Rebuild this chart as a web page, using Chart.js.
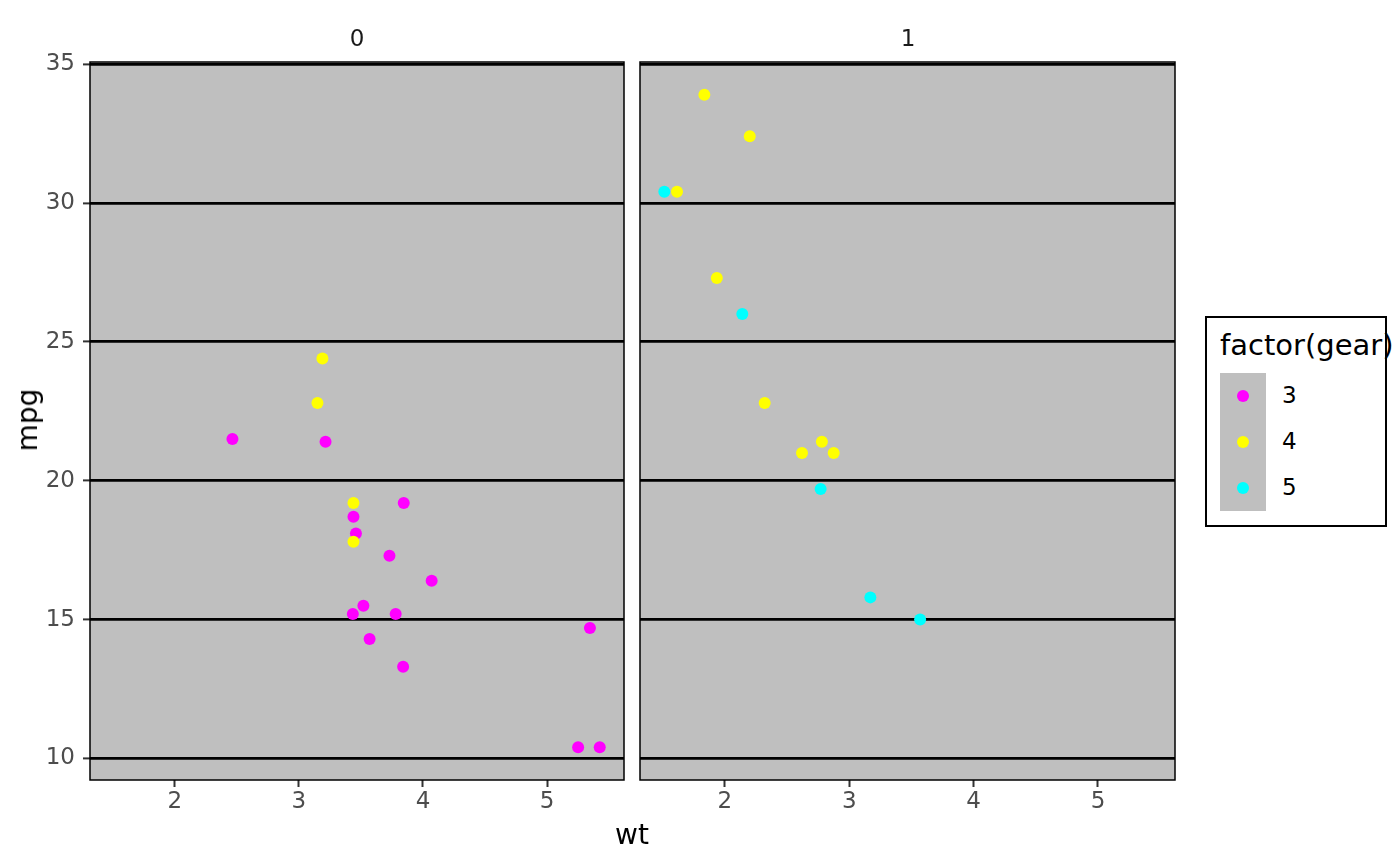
<!DOCTYPE html>
<html>
<head>
<meta charset="utf-8">
<script src="https://cdn.jsdelivr.net/npm/chart.js@4.4.1/dist/chart.umd.min.js"></script>
<style>
  body { margin: 0; background: #fff; font-family: "DejaVu Sans", sans-serif; }
  #wrap { position: relative; width: 1400px; height: 866px; }
  .box { position: absolute; }
  .strip { position: absolute; top: 38px; font-size: 23px; line-height: 1; color: #1a1a1a; transform: translate(-50%, -50%); }
  .axtitle { position: absolute; font-size: 28px; line-height: 1; color: #000; }
  #legend { position: absolute; left: 1205px; top: 316px; width: 178px; height: 207px; border: 2px solid #000; }
  #legend .title { position: absolute; left: 13px; top: 13px; font-size: 29px; line-height: 1; white-space: nowrap; }
  #legend .keys { position: absolute; left: 13px; top: 55px; width: 46px; height: 138px; background: #bfbfbf; }
  #legend .dot { position: absolute; left: 17px; width: 12px; height: 12px; border-radius: 50%; }
  #legend .lab { position: absolute; left: 75px; font-size: 23px; line-height: 1; }
</style>
</head>
<body>
<div id="wrap">
  <div class="box" style="left:0;top:0;"><canvas id="c0" width="630" height="866"></canvas></div>
  <div class="box" style="left:630px;top:0;"><canvas id="c1" width="560" height="866"></canvas></div>
  <div class="strip" style="left:357px;">0</div>
  <div class="strip" style="left:908px;">1</div>
  <div class="axtitle" style="left:632px;top:835px;transform:translate(-50%,-50%);">wt</div>
  <div class="axtitle" style="left:28px;top:420px;transform:translate(-50%,-50%) rotate(-90deg);">mpg</div>
  <div id="legend">
    <div class="title">factor(gear)</div>
    <div class="keys" id="keys"></div>
  </div>
</div>
<script>
// mtcars columns used by the plot
const wt = [2.62, 2.875, 2.32, 3.215, 3.44, 3.46, 3.57, 3.19, 3.15, 3.44, 3.44, 4.07, 3.73, 3.78, 5.25, 5.424,
  5.345, 2.2, 1.615, 1.835, 2.465, 3.52, 3.435, 3.84, 3.845, 1.935, 2.14, 1.513, 3.17, 2.77, 3.57, 2.78];
const mpg = [21.0, 21.0, 22.8, 21.4, 18.7, 18.1, 14.3, 24.4, 22.8, 19.2, 17.8, 16.4, 17.3, 15.2, 10.4, 10.4,
  14.7, 32.4, 30.4, 33.9, 21.5, 15.5, 15.2, 13.3, 19.2, 27.3, 26.0, 30.4, 15.8, 19.7, 15.0, 21.4];
const am = [1, 1, 1, 0, 0, 0, 0, 0, 0, 0, 0, 0, 0, 0, 0, 0, 0, 1, 1, 1, 0, 0, 0, 0, 0, 1, 1, 1, 1, 1, 1, 1];
const gear = [4, 4, 4, 3, 3, 3, 3, 4, 4, 4, 4, 3, 3, 3, 3, 3, 3, 4, 4, 4, 3, 3, 3, 3, 3, 4, 5, 5, 5, 5, 5, 4];

const panels = [0, 1];
const gearLevels = [3, 4, 5];
const gearColors = { 3: "#ff00ff", 4: "#ffff00", 5: "#00ffff" };
const xTicks = [2, 3, 4, 5];
const yTicks = [10, 15, 20, 25, 30, 35];

// ggplot-style 5% expansion of the data range
const xMin = Math.min(...wt), xMax = Math.max(...wt);
const yMin = Math.min(...mpg), yMax = Math.max(...mpg);
const xPad = (xMax - xMin) * 0.05, yPad = (yMax - yMin) * 0.05;

// grey panel + thin black frame
const panelPlugin = {
  id: "panel",
  beforeDraw(chart) {
    const a = chart.chartArea, ctx = chart.ctx;
    ctx.save();
    ctx.fillStyle = "#bfbfbf";
    ctx.fillRect(a.left, a.top, a.right - a.left, a.bottom - a.top);
    ctx.restore();
  },
  afterDraw(chart) {
    const a = chart.chartArea, ctx = chart.ctx;
    ctx.save();
    ctx.strokeStyle = "#000";
    ctx.lineWidth = 1.5;
    ctx.strokeRect(a.left, a.top, a.right - a.left, a.bottom - a.top);
    ctx.restore();
  },
};

function makePanel(canvasId, panel, first) {
  const pts = [], cols = [];
  wt.forEach((w, i) => {
    if (am[i] !== panel) return;
    pts.push({ x: w, y: mpg[i] });
    cols.push(gearColors[gear[i]]);
  });
  return new Chart(document.getElementById(canvasId), {
    type: "scatter",
    data: {
      datasets: [{
        data: pts,
        pointBackgroundColor: cols,
        pointBorderWidth: 0,
        pointRadius: 6,
        pointHoverRadius: 6,
      }],
    },
    plugins: [panelPlugin],
    options: {
      responsive: false,
      animation: false,
      devicePixelRatio: 1,
      layout: { padding: { left: 0, top: 62, right: first ? 5 : 15, bottom: 0 } },
      plugins: { legend: { display: false }, tooltip: { enabled: false } },
      scales: {
        x: {
          type: "linear",
          min: xMin - xPad,
          max: xMax + xPad,
          afterBuildTicks: (s) => { s.ticks = xTicks.map((v) => ({ value: v })); },
          afterFit: (s) => { s.height = 86; },
          border: { display: false },
          grid: { drawOnChartArea: false, drawTicks: true, tickLength: 7, tickColor: "#333", tickWidth: 2 },
          ticks: { color: "#4d4d4d", font: { family: "DejaVu Sans", size: 23 }, padding: 1, maxRotation: 0 },
        },
        y: {
          type: "linear",
          min: yMin - yPad,
          max: yMax + yPad,
          afterBuildTicks: (s) => { s.ticks = yTicks.map((v) => ({ value: v })); },
          afterFit: (s) => { s.width = first ? 90 : 10; },
          border: { display: false },
          grid: { color: "#000", lineWidth: 2.8, drawTicks: first, tickLength: 7, tickColor: "#333", tickWidth: 2 },
          ticks: { display: first, color: "#4d4d4d", font: { family: "DejaVu Sans", size: 23 }, padding: 8 },
        },
      },
    },
  });
}

makePanel("c0", panels[0], true);
makePanel("c1", panels[1], false);

// legend keys
const keys = document.getElementById("keys");
const legend = document.getElementById("legend");
gearLevels.forEach((g, i) => {
  const d = document.createElement("div");
  d.className = "dot";
  d.style.top = (17 + i * 46) + "px";
  d.style.background = gearColors[g];
  keys.appendChild(d);
  const l = document.createElement("div");
  l.className = "lab";
  l.style.top = (66 + i * 46) + "px";
  l.textContent = g;
  legend.appendChild(l);
});
</script>
</body>
</html>
